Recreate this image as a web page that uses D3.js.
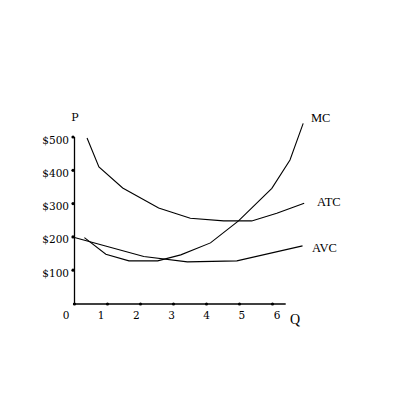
<!DOCTYPE html>
<html><head><meta charset="utf-8">
<script src="https://cdn.jsdelivr.net/npm/d3@7"></script>
<style>body{margin:0;background:#fff}</style>
</head><body><div id="chart"></div>
<script>
const qTicks = [0, 1, 2, 3, 4, 5, 6];
const pTicks = [100, 200, 300, 400, 500];
const pTickLabels = ["$100", "$200", "$300", "$400", "$500"];

const mcQ = [0.30, 0.95, 1.65, 2.52, 3.22, 4.12, 4.97, 5.98, 6.53, 6.93];
const mcP = [198, 148, 128, 128, 146, 182, 248, 346, 431, 541];
const atcQ = [0.38, 0.74, 1.46, 2.55, 3.51, 4.52, 5.37, 6.13, 6.96];
const atcP = [497, 410, 347, 287, 256, 248, 248, 271, 301];
const avcQ = [0.0, 2.10, 3.42, 4.92, 6.91];
const avcP = [198, 141, 125, 128, 173];
const curveNames = ["MC", "ATC", "AVC"];

const svg = d3.select("#chart").append("svg").attr("width", 400).attr("height", 400);
const x = d3.scaleLinear().domain([0, 6]).range([74.5, 272.5]);
const xLab = d3.scaleLinear().domain([0, 6]).range([66, 277]);
const y = d3.scaleLinear().domain([0, 500]).range([303.5, 137]);

// axes
svg.append("line").attr("x1", x(0)).attr("x2", x(0)).attr("y1", y(500)).attr("y2", y(0) + 0.5)
  .attr("stroke", "#000").attr("stroke-width", 1.3);
svg.append("line").attr("x1", x(0) - 1.5).attr("x2", x(6.4)).attr("y1", y(0) + 0.5).attr("y2", y(0) + 0.5)
  .attr("stroke", "#000").attr("stroke-width", 1.3);

// tick dots
svg.selectAll(".qd").data(qTicks).enter().append("circle")
  .attr("cx", d => x(d)).attr("cy", y(0) + 0.5).attr("r", 1.6).attr("fill", "#000");
svg.selectAll(".pd").data(pTicks).enter().append("circle")
  .attr("cx", x(0) - 1.5).attr("cy", d => y(d)).attr("r", 1.6).attr("fill", "#000");

// tick labels
svg.selectAll(".ql").data(qTicks).enter().append("text")
  .attr("x", d => xLab(d)).attr("y", 318.5).attr("text-anchor", "middle")
  .attr("font-family", "DejaVu Serif").attr("font-size", 10.5).attr("fill", "#000").text(d => d);
svg.selectAll(".pl").data(pTicks).enter().append("text")
  .attr("x", 69).attr("y", d => y(d) + 6.5).attr("text-anchor", "end")
  .attr("font-family", "DejaVu Serif").attr("font-size", 10.5).attr("fill", "#000")
  .text((d, i) => pTickLabels[i]);

// axis titles
svg.append("text").attr("x", 75).attr("y", 121).attr("text-anchor", "middle")
  .attr("font-family", "DejaVu Serif").attr("font-size", 11).text("P");
svg.append("text").attr("x", 290).attr("y", 324).attr("font-family", "Liberation Serif")
  .attr("font-size", 14).text("Q");

// curves
const line = d3.line().x(d => x(d[0])).y(d => y(d[1]));
const curves = [d3.zip(mcQ, mcP), d3.zip(atcQ, atcP), d3.zip(avcQ, avcP)];
svg.selectAll(".curve").data(curves).enter().append("path")
  .attr("d", line).attr("fill", "none").attr("stroke", "#000").attr("stroke-width", 1.1);

// curve labels
const labelPos = [[311, 122], [317, 206], [312, 252]];
svg.selectAll(".cl").data(curveNames).enter().append("text")
  .attr("x", (d, i) => labelPos[i][0]).attr("y", (d, i) => labelPos[i][1])
  .attr("font-family", "Liberation Serif").attr("font-size", 12.5).attr("fill", "#000").text(d => d);
</script>
</body></html>
